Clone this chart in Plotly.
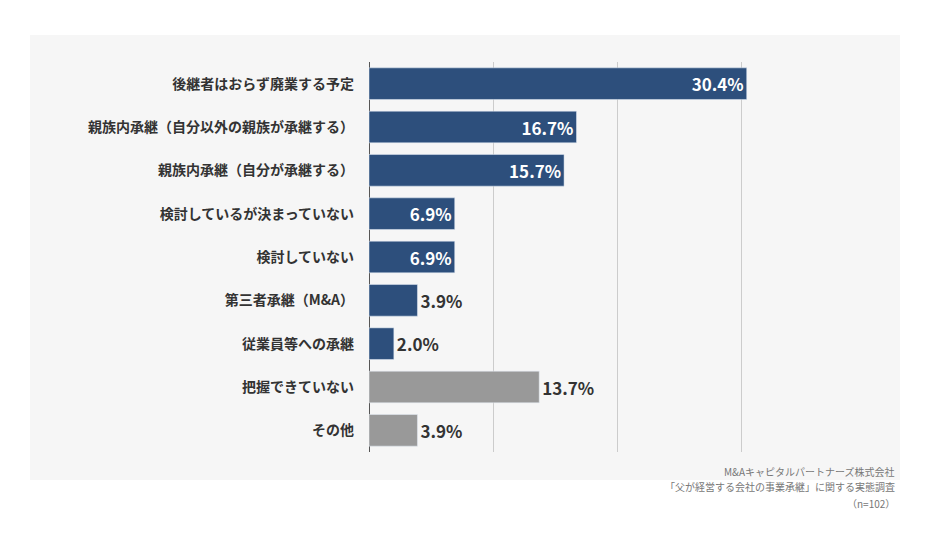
import plotly.graph_objects as go

categories = ["後継者はおらず廃業する予定", "親族内承継（自分以外の親族が承継する）", "親族内承継（自分が承継する）",
              "検討しているが決まっていない", "検討していない", "第三者承継（M&A）", "従業員等への承継",
              "把握できていない", "その他"]
values = [30.4, 16.7, 15.7, 6.9, 6.9, 3.9, 2.0, 13.7, 3.9]
colors = ["#2d4f7c"] * 7 + ["#999999"] * 2
positions = ["inside"] * 5 + ["outside"] * 4
text_colors = ["white"] * 5 + ["#333333"] * 4
notes = ["M&Aキャピタルパートナーズ株式会社", "「父が経営する会社の事業承継」に関する実態調査", "（n=102）"]

OFF = 8  # browser body margin
W, H = 930, 546
L, T = 369 - OFF, 62 - OFF
R, B = W - (866 - OFF), H - (452 - OFF)
pw, ph = W - L - R, H - T - B
def px(x): return (x - OFF - L) / pw
def py(y): return (H - B - (y - OFF)) / ph

fig = go.Figure(go.Bar(
    y=categories, x=values, orientation="h", marker_color=colors,
    text=[f"{v:.1f}%" for v in values], textposition=positions,
    insidetextanchor="end", textangle=0,
    textfont=dict(size=17, color=text_colors, family="Noto Sans CJK JP", weight="bold"),
    cliponaxis=False, width=0.73,
))
anns = [dict(xref="paper", yref="paper", x=px(897), y=py(471 + 16 * i), xanchor="right", yanchor="middle",
             showarrow=False, text=t, font=dict(size=10, color="#777777")) for i, t in enumerate(notes)]
fig.update_layout(
    width=W, height=H, margin=dict(l=L, r=R, t=T, b=B),
    paper_bgcolor="white", plot_bgcolor="rgba(0,0,0,0)", showlegend=False,
    font=dict(family="Noto Sans CJK JP", color="#333333"),
    xaxis=dict(range=[0, 40], dtick=10, showticklabels=False, showgrid=True,
               gridcolor="#cccccc", gridwidth=1, zeroline=True, zerolinecolor="#555555", zerolinewidth=1),
    yaxis=dict(autorange="reversed", tickfont=dict(size=14, color="#333333", weight="bold"),
               ticks="", ticklabelstandoff=14),
    shapes=[dict(type="rect", xref="paper", yref="paper", x0=px(30), x1=px(900), y0=py(480), y1=py(35),
                 fillcolor="#f6f6f6", line_width=0, layer="below")],
    annotations=anns,
)
fig.write_html("out.html")
